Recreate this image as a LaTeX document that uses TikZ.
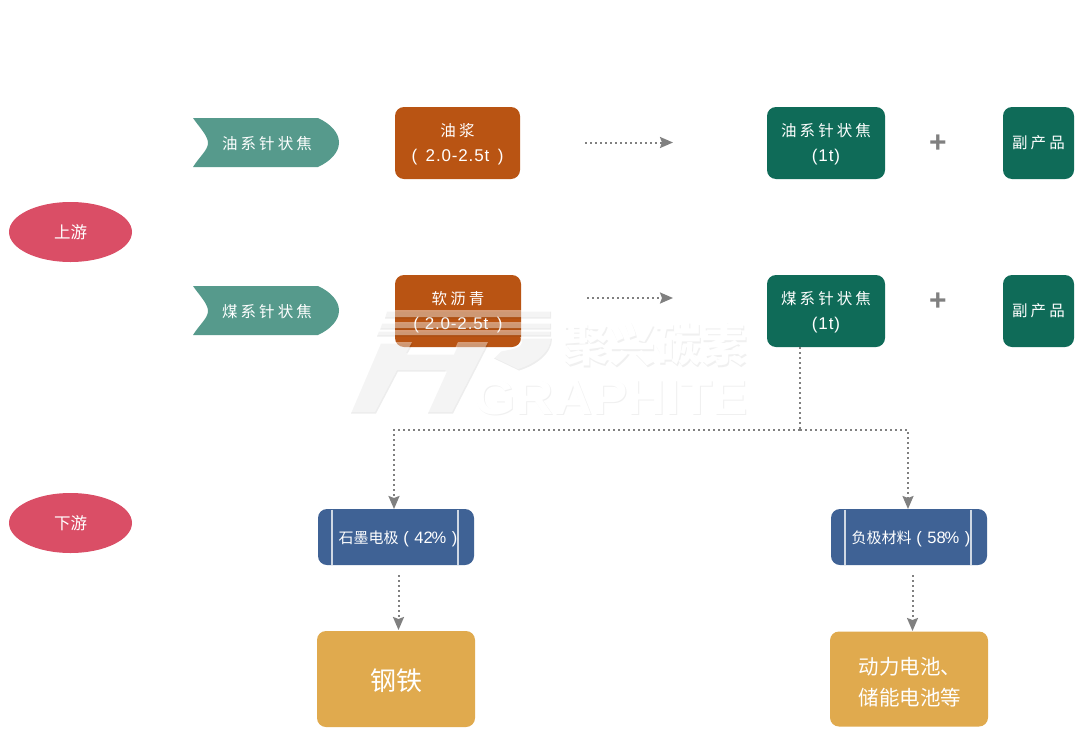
\documentclass[tikz,border=0pt]{standalone}
\usepackage{fontspec}
\setmainfont{Liberation Sans}
\newfontfamily\cjk{Noto Sans CJK SC}
\newfontfamily\cjkw[LetterSpace=20]{Noto Sans CJK SC}
\newfontfamily\latw[LetterSpace=5]{Liberation Sans}
\usetikzlibrary{arrows.meta,shapes.geometric}
\definecolor{tealc}{HTML}{569A8C}
\definecolor{orangec}{HTML}{B95413}
\definecolor{greenc}{HTML}{0F6B58}
\definecolor{redc}{HTML}{DA4E66}
\definecolor{bluec}{HTML}{3F6295}
\definecolor{yellowc}{HTML}{E0AA4E}
\definecolor{linec}{HTML}{808080}
\tikzset{
 box/.style={rounded corners=9pt,text=white,align=center,inner sep=0pt,font=\fontsize{15.5}{25}\selectfont},
 orangebox/.style={box,fill=orangec},
 greenbox/.style={box,fill=greenc},
 bluebox/.style={box,fill=bluec,font=\fontsize{15}{20}\selectfont},
 yellowbox/.style={box,fill=yellowc},
 oval/.style={ellipse,fill=redc,text=white,inner sep=0pt,font=\fontsize{16.5}{18}\selectfont\cjk},
 chevlabel/.style={text=white,inner sep=0pt,font=\fontsize{15.5}{18}\selectfont\cjkw},
 flow/.style={draw=linec,line width=2pt,dash pattern=on 2pt off 3pt},
 tipped/.style={flow,-{Stealth[length=13pt,width=11pt,inset=2pt,fill=linec]}},
 plussign/.style={font=\fontsize{30}{30}\selectfont\bfseries,text=linec,inner sep=0pt},
 wmshadow/.style={fill=black,fill opacity=.07,draw=none,shift={(1pt,-1.5pt)}},
 wmlight/.style={fill=white,fill opacity=.42,draw=none},
 wmtext/.style={text=white,inner sep=0pt},
 wmtextshadow/.style={text=black,text opacity=.06,inner sep=0pt}
}
\newcommand{\chev}[1]{%
 \fill[tealc] (193,#1) -- (318,#1) .. controls (331,{#1+6}) and (339,{#1+15}) .. (339,{#1+24.5})
 .. controls (339,{#1+34}) and (331,{#1+43}) .. (318,{#1+49}) -- (193,{#1+49})
 .. controls (200,{#1+38}) and (208,{#1+32}) .. (208,{#1+25}) .. controls (208,{#1+18}) and (200,{#1+10}) .. (193,#1) -- cycle;}
\newcommand{\down}[2]{\raisebox{-#1}[\height][\depth]{#2}}
\newcommand{\twol}[2]{\down{1pt}{\begin{tabular}{@{}c@{}}#1\\#2\end{tabular}}}
\newcommand{\lat}{\fontsize{17}{25}\selectfont\latw}
\newcommand{\wmshape}[1]{%
 \foreach \y/\h in {310/7,322/6,330/5}
  \fill[#1] ({386-(\y-310)*.4},\y) -- (550,\y) -- (550,{\y+\h}) -- ({384-(\y-310)*.4},{\y+\h}) -- cycle;
 \fill[#1] (350,412) -- (375,412) -- (397,370) -- (446,370) -- (427,412) -- (452,412) -- (488,342) -- (458,342) -- (453,353) -- (406,353) -- (412,342) -- (380,342) -- cycle;
 \fill[#1] (520,337) -- (551,337) .. controls (551,352) and (535,364) .. (518,369) -- (493,357) -- (500,350) -- (510,348) .. controls (520,346) and (523,342) .. (520,337) -- cycle;}
\begin{document}
\begin{tikzpicture}[x=1pt,y=-1pt]
\useasboundingbox (0,0) rectangle (1080,734);
\fill[white] (0,0) rectangle (1080,734);
% chevrons
\chev{118}
\chev{286}
\node[chevlabel] (c1) at (267,143.5) {油系针状焦};
\node[chevlabel] (c2) at (267,311.5) {煤系针状焦};
% ovals
\node[oval,minimum width=123pt,minimum height=60pt] (up) at (70.5,232) {上游};
\node[oval,minimum width=123pt,minimum height=60pt] (down) at (70.5,523) {下游};
% orange
\node[orangebox,minimum width=125pt,minimum height=72pt] (o1) at (457.5,143) {\twol{\cjkw 油浆}{\lat (\,\,\,2.0-2.5t\,\,\,)}};
\node[orangebox,minimum width=126pt,minimum height=72pt] (o2) at (458,311) {\twol{\cjkw 软沥青}{\lat (\,\,2.0-2.5t\,\,\,)}};
% green
\node[greenbox,minimum width=118pt,minimum height=72pt] (g1) at (826,143) {\twol{\cjkw 油系针状焦}{\lat (1t)}};
\node[greenbox,minimum width=118pt,minimum height=72pt] (g2) at (826,311) {\twol{\cjkw 煤系针状焦}{\lat (1t)}};
\node[greenbox,minimum width=71pt,minimum height=72pt] (b1) at (1038.5,143) {\cjkw 副产品};
\node[greenbox,minimum width=71pt,minimum height=72pt] (b2) at (1038.5,311) {\cjkw 副产品};
\node[plussign] (p1) at (938,144) {+};
\node[plussign] (p2) at (938,302) {+};
% blue
\node[bluebox,minimum width=156pt,minimum height=56pt] (e1) at (396,537) {\down{1.5pt}{\kern4pt\cjk 石墨电极\hspace{2pt}{\rmfamily\fontsize{16.5}{20}\selectfont\,(\,\,42\kern-1pt\%\,\,)}}};
\node[bluebox,minimum width=156pt,minimum height=56pt] (e2) at (909,537) {\down{1.5pt}{\kern4pt\cjk 负极材料\hspace{2pt}{\rmfamily\fontsize{16.5}{20}\selectfont\,(\,\,58\kern-1pt\%\,\,)}}};
\foreach \x in {332,458,845,971} \draw[white!75!bluec,line width=1.6pt] (\x,509.5) -- (\x,564.5);
% yellow
\node[yellowbox,minimum width=158pt,minimum height=96pt,font=\fontsize{26}{32}\selectfont\cjk] (s1) at (396,679) {\down{2pt}{钢铁}};
\node[yellowbox,minimum width=158pt,minimum height=95pt,font=\fontsize{20.5}{31}\selectfont\cjk] (s2) at (909,679) {\down{5pt}{\kern2pt\begin{tabular}{@{}l@{}}动力电池、\\储能电池等\end{tabular}}};
% connectors
\coordinate (a1s) at (585,142.5); \coordinate (a1e) at (673,142.5);
\coordinate (a2s) at (587,298); \coordinate (a2e) at (673,298);
\coordinate (t) at (800,347); \coordinate (j) at (800,430);
\coordinate (jl) at (394,430); \coordinate (jr) at (908,430);
\coordinate (d1) at (394,509); \coordinate (d2) at (908,509);
\coordinate (f1) at (398.5,575); \coordinate (f1e) at (398.5,630);
\coordinate (f2) at (912.5,575); \coordinate (f2e) at (912.5,631);
\draw[tipped] (a1s) -- (a1e);
\draw[tipped] (a2s) -- (a2e);
\draw[flow] (t) -- (j);
\draw[tipped] (j) -- (jl) -- (d1);
\draw[tipped] (j) -- (jr) -- (d2);
\draw[tipped] (f1) -- (f1e);
\draw[tipped] (f2) -- (f2e);
% watermark
\wmshape{wmshadow}
\wmshape{wmlight}
\node[wmtextshadow,font=\fontsize{46}{46}\selectfont\bfseries\cjk] (wm1s) at (656,345.5) {聚兴碳素};
\node[wmtext,font=\fontsize{46}{46}\selectfont\bfseries\cjk] (wm1) at (655,344) {聚兴碳素};
\node[wmtextshadow,xscale=1.08,font=\fontsize{49}{49}\selectfont\bfseries] (wm2s) at (612.5,399) {GRAPHITE};
\node[wmtext,xscale=1.08,font=\fontsize{49}{49}\selectfont\bfseries] (wm2) at (611.5,397.5) {GRAPHITE};
\end{tikzpicture}
\end{document}
